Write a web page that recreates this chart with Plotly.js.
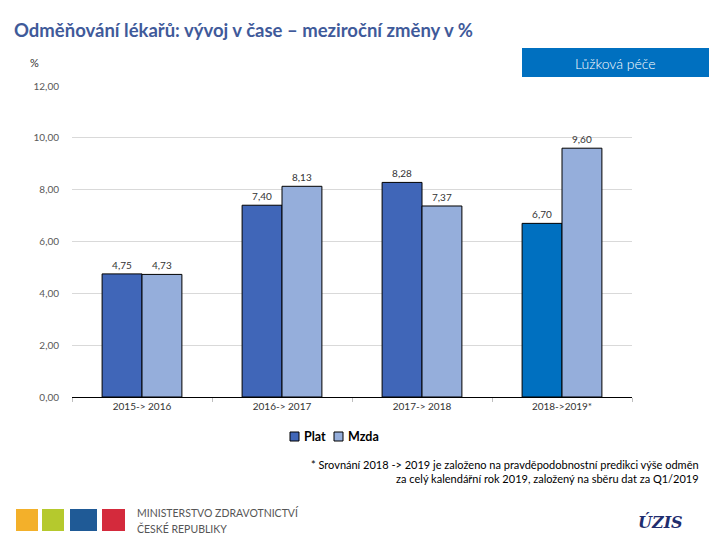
<!DOCTYPE html>
<html>
<head>
<meta charset="utf-8">
<script src="https://cdn.plot.ly/plotly-3.0.1.min.js"></script>
<style>html,body{margin:0;padding:0;background:#fff;}#chart{width:720px;height:540px;}</style>
</head>
<body>
<div id="chart"></div>
<script>
var categories = ["2015-> 2016", "2016-> 2017", "2017-> 2018", "2018->2019*"];
var seriesNames = ["Plat", "Mzda"];
var platValues = [4.75, 7.40, 8.28, 6.70];
var mzdaValues = [4.73, 8.13, 7.37, 9.60];
var yTicks = [0, 2, 4, 6, 8, 10, 12];

var L = 72, R = 632, T = 86, B = 397;
function px(x) { return (x - L) / (R - L); }
function py(y) { return (B - y) / (B - T); }

var FONT = "Lato, 'Open Sans', sans-serif";

var PLAT = "#4066B8", PLAT_LAST = "#0070C0", MZDA = "#95AEDB";
var platColors = [PLAT, PLAT, PLAT, PLAT_LAST];

var traces = [
  {
    type: "bar", name: seriesNames[0], x: categories, y: platValues,
    marker: {color: platColors, line: {color: "#000000", width: 1}},
    texttemplate: "%{y:.2f}", textposition: "outside", cliponaxis: false,
    textfont: {family: FONT, size: 10, color: "#333333"}
  },
  {
    type: "bar", name: seriesNames[1], x: categories, y: mzdaValues,
    marker: {color: MZDA, line: {color: "#000000", width: 1}},
    texttemplate: "%{y:.2f}", textposition: "outside", cliponaxis: false,
    textfont: {family: FONT, size: 10, color: "#333333"}
  }
];

var shapes = [
  {type: "rect", xref: "paper", yref: "paper", x0: px(522), x1: px(709), y0: py(77), y1: py(48), fillcolor: "#0070C0", line: {width: 0}},
  {type: "rect", xref: "paper", yref: "paper", x0: px(16), x1: px(38), y0: py(531), y1: py(509), fillcolor: "#F3B02A", line: {width: 0}},
  {type: "rect", xref: "paper", yref: "paper", x0: px(42), x1: px(64), y0: py(531), y1: py(509), fillcolor: "#B5C92D", line: {width: 0}},
  {type: "rect", xref: "paper", yref: "paper", x0: px(70), x1: px(97), y0: py(531), y1: py(509), fillcolor: "#1F5A96", line: {width: 0}},
  {type: "rect", xref: "paper", yref: "paper", x0: px(102), x1: px(125), y0: py(531), y1: py(509), fillcolor: "#D42A3C", line: {width: 0}},
  // custom legend swatches
  {type: "rect", xref: "paper", yref: "paper", x0: px(290), x1: px(299), y0: py(441), y1: py(432), fillcolor: PLAT, line: {color: "#000000", width: 1}},
  {type: "rect", xref: "paper", yref: "paper", x0: px(334), x1: px(343), y0: py(441), y1: py(432), fillcolor: MZDA, line: {color: "#000000", width: 1}}
];

var annotations = [
  {xref: "paper", yref: "paper", x: px(28), y: py(62), xanchor: "left", yanchor: "middle", text: "%", showarrow: false, font: {family: FONT, size: 11, color: "#333333"}},
  {xref: "paper", yref: "paper", x: px(615), y: py(63), xanchor: "center", yanchor: "middle", text: "Lůžková péče", showarrow: false, font: {family: FONT, size: 14, color: "#ffffff", weight: 300}},
  {xref: "paper", yref: "paper", x: px(701), y: py(471), xanchor: "right", yanchor: "middle", align: "right", text: "* Srovnání 2018 -> 2019 je založeno na pravděpodobnostní predikci výše odměn<br>za celý kalendářní rok 2019, založený na sběru dat za Q1/2019", showarrow: false, font: {family: FONT, size: 11, color: "#000000"}},
  {xref: "paper", yref: "paper", x: px(135), y: py(512), xanchor: "left", yanchor: "middle", text: "MINISTERSTVO ZDRAVOTNICTVÍ", showarrow: false, font: {family: FONT, size: 10.5, color: "#555555"}},
  {xref: "paper", yref: "paper", x: px(135), y: py(528), xanchor: "left", yanchor: "middle", text: "ČESKÉ REPUBLIKY", showarrow: false, font: {family: FONT, size: 10.5, color: "#555555"}},
  {xref: "paper", yref: "paper", x: px(660), y: py(522), xanchor: "center", yanchor: "middle", text: "<b><i>ÚZIS</i></b>", showarrow: false, font: {family: "'DejaVu Serif', serif", size: 16, color: "#1F2D6E"}},
  // custom legend labels
  {xref: "paper", yref: "paper", x: px(302), y: py(436.5), xanchor: "left", yanchor: "middle", text: "<b>" + seriesNames[0] + "</b>", showarrow: false, font: {family: FONT, size: 12.5, color: "#000000"}},
  {xref: "paper", yref: "paper", x: px(346), y: py(436.5), xanchor: "left", yanchor: "middle", text: "<b>" + seriesNames[1] + "</b>", showarrow: false, font: {family: FONT, size: 12.5, color: "#000000"}}
];

var layout = {
  width: 720, height: 540,
  paper_bgcolor: "#ffffff", plot_bgcolor: "#ffffff",
  margin: {l: L, r: 720 - R, t: T, b: 540 - B},
  separators: ", ",
  font: {family: FONT, size: 10, color: "#595959"},
  title: {
    text: "<b>Odměňování lékařů: vývoj v čase – meziroční změny v %</b>",
    x: 14 / 720, xanchor: "left", xref: "container",
    y: 1 - 31 / 540, yanchor: "middle", yref: "container",
    font: {family: FONT, size: 18.5, color: "#3F5A9A"}
  },
  barmode: "group", bargap: 0.43, bargroupgap: 0,
  showlegend: false,
  xaxis: {
    type: "category", showgrid: false, showline: true, linecolor: "#000000", linewidth: 1,
    ticks: "outside", tickson: "boundaries", ticklen: 4, tickcolor: "#bfbfbf",
    tickfont: {family: FONT, size: 10, color: "#333333"}, zeroline: false
  },
  yaxis: {
    range: [0, 12], tickvals: yTicks, tickformat: ".2f", showgrid: true, gridcolor: "#d9d9d9",
    zeroline: false, showline: false, ticks: "", ticklabelstandoff: 12,
    tickfont: {family: FONT, size: 10, color: "#595959"}
  },
  shapes: shapes,
  annotations: annotations
};

Plotly.newPlot("chart", traces, layout, {displayModeBar: false, staticPlot: true});
</script>
</body>
</html>
